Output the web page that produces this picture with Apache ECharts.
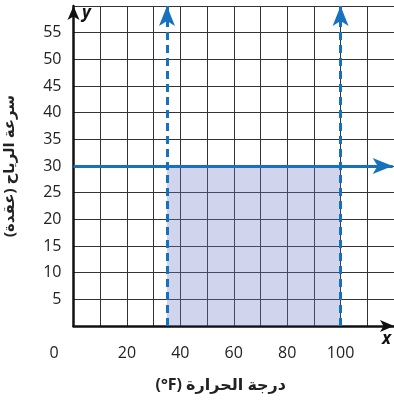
<!DOCTYPE html>
<html>
<head>
<meta charset="utf-8">
<script src="https://cdn.jsdelivr.net/npm/echarts@6/dist/echarts.min.js"></script>
<style>
  html, body { margin: 0; padding: 0; background: #fff; }
  #chart { width: 394px; height: 400px; }
</style>
</head>
<body>
<div id="chart"></div>
<script>
// axis ranges / ticks
const xTickLabels = [0, 20, 40, 60, 80, 100]
const yTickLabels = [5, 10, 15, 20, 25, 30, 35, 40, 45, 50, 55]
const xRange = [0, 120]
const yRange = [0, 60]

// boundary lines (temperature between 35 and 100, wind speed at 30)
const tempMin = 35
const tempMax = 100
const windLimit = 30

const BLUE = '#1672bd'
const FONT = '"Open Sans", "DejaVu Sans", sans-serif'

const chart = echarts.init(document.getElementById('chart'))

chart.setOption({
  animation: false,
  grid: { left: 73.5, right: 0, top: 6, bottom: 74, containLabel: false, outerBoundsMode: 'none' },
  xAxis: {
    type: 'value',
    min: xRange[0],
    max: xRange[1],
    interval: 10,
    name: '(°F) درجة الحرارة',
    nameLocation: 'middle',
    nameGap: 51,
    nameTextStyle: { fontFamily: FONT, fontSize: 16, fontWeight: 'bold', color: '#222', padding: [0, 26, 0, 0] },
    axisLine: { lineStyle: { color: '#111', width: 2.5 }, symbol: ['none', 'arrow'], symbolSize: [9, 14] },
    axisTick: { show: false },
    axisLabel: {
      margin: 19,
      fontFamily: FONT,
      fontSize: 16,
      color: '#222',
      showMinLabel: true,
      showMaxLabel: true,
      formatter: v => v === 0 ? '{z|0}' : (xTickLabels.includes(v) ? String(v) : ''),
      rich: { z: { fontFamily: FONT, fontSize: 16, color: '#222', padding: [0, 39, 0, 0] } },
    },
    splitLine: { show: true, lineStyle: { color: '#333', width: 1 } },
  },
  yAxis: {
    type: 'value',
    min: yRange[0],
    max: yRange[1],
    interval: 5,
    name: 'سرعة الرياح (عقدة)\u200F',
    nameLocation: 'middle',
    nameRotate: 90,
    nameGap: 56,
    nameTextStyle: { fontFamily: FONT, fontSize: 15, fontWeight: 'bold', color: '#222' },
    axisLine: { lineStyle: { color: '#111', width: 2.5 }, symbol: ['none', 'arrow'], symbolSize: [9, 14] },
    axisTick: { show: false },
    axisLabel: {
      margin: 12,
      fontFamily: FONT,
      fontSize: 16,
      color: '#222',
      formatter: v => yTickLabels.includes(v) ? String(v) : '',
    },
    splitLine: { show: true, lineStyle: { color: '#333', width: 1 } },
  },
  graphic: [
    { type: 'text', left: 82, top: 5, style: { text: 'y', font: 'italic bold 17px ' + FONT, fill: '#111' } },
    { type: 'text', left: 382, top: 331, style: { text: 'x', font: 'italic bold 17px ' + FONT, fill: '#111' } },
  ],
  series: [
    {
      type: 'line',
      data: [],
      silent: true,
      markArea: {
        silent: true,
        itemStyle: { color: 'rgba(110,120,200,0.32)' },
        data: [[{ coord: [tempMin, yRange[0]] }, { coord: [tempMax, windLimit] }]],
      },
    },
    {
      type: 'line',
      data: [],
      silent: true,
      markLine: {
        silent: true,
        symbol: ['none', 'arrow'],
        symbolSize: [12, 20],
        label: { show: false },
        lineStyle: { color: BLUE, width: 3, type: [8, 5] },
        data: [
          [{ coord: [tempMin, yRange[0]] }, { coord: [tempMin, yRange[1]] }],
          [{ coord: [tempMax, yRange[0]] }, { coord: [tempMax, yRange[1]] }],
        ],
      },
    },
    {
      type: 'line',
      data: [],
      silent: true,
      markLine: {
        silent: true,
        symbol: ['none', 'arrow'],
        symbolSize: [12, 20],
        label: { show: false },
        lineStyle: { color: BLUE, width: 3, type: 'solid' },
        data: [
          [{ coord: [xRange[0], windLimit] }, { coord: [xRange[1] - 0.5, windLimit] }],
        ],
      },
    },
  ],
})
</script>
</body>
</html>
